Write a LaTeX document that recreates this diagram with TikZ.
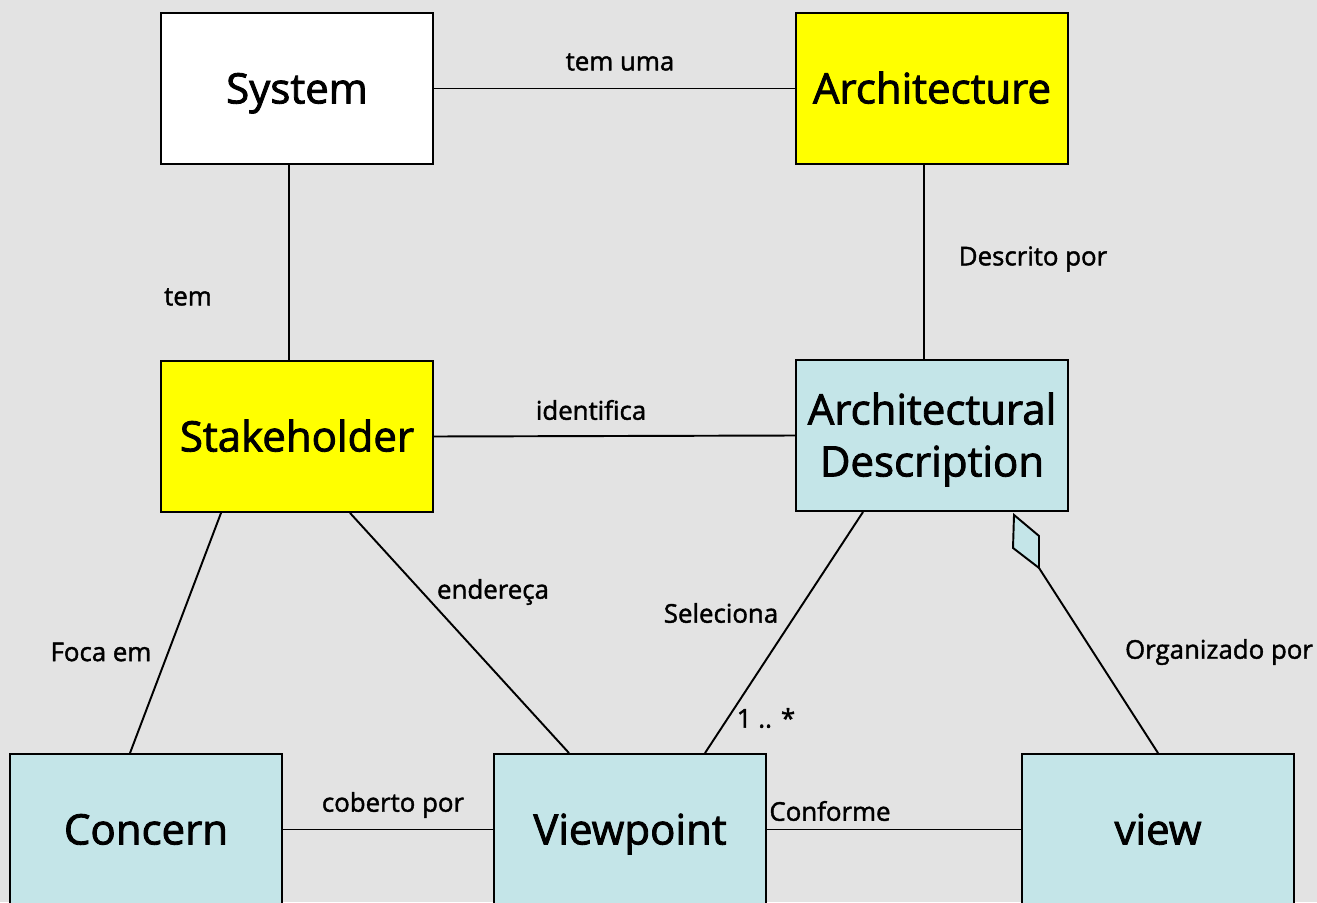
\documentclass[tikz,border=0pt]{standalone}
\usepackage{fontspec}
\setmainfont{Open Sans}
\newfontfamily\semib{Open Sans}[FakeBold=2]
\newfontfamily\semil{Open Sans}[FakeBold=1.6]
\usetikzlibrary{calc}
\definecolor{bg}{HTML}{E3E3E3}
\definecolor{lblue}{HTML}{C4E5E8}
\definecolor{yel}{HTML}{FFFF00}
\tikzset{
  box/.style={draw=black, line width=1.1pt, minimum width=5.44cm, minimum height=3.02cm, inner sep=0pt, align=center, text height=17pt, text depth=0pt, font=\semib\fontsize{23.9}{29.6}\selectfont},
  conn/.style={line width=1.1pt},
  lab/.style={font=\semil\fontsize{14.7}{17}\selectfont, inner sep=0pt}
}
\begin{document}
\begin{tikzpicture}[x=0.02cm,y=-0.02cm]
\useasboundingbox (0,0) rectangle (1317,902);
\clip (0,0) rectangle (1317,902);
\fill[bg] (0,0) rectangle (1317,902);
\node[box, fill=white] (sys) at (297,88.5) {System};
\node[box, fill=yel] (arch) at (932,88.5) {Architecture};
\node[box, fill=yel] (stk) at (297,436.5) {Stakeholder};
\node[box, fill=lblue, text height=46.6pt] (ad) at (932,435.5) {Architectural\\Description};
\node[box, fill=lblue] (con) at (146,829.5) {Concern};
\node[box, fill=lblue] (vp) at (630,829.5) {Viewpoint};
\node[box, fill=lblue] (view) at (1158,829.5) {view};
% diamond
\coordinate (dt) at ($(ad.south)+(82,3)$);
\coordinate (dr) at ($(ad.south)+(107,24)$);
\coordinate (db) at ($(ad.south)+(107,56)$);
\coordinate (dl) at ($(ad.south)+(81,36)$);
\draw[conn, fill=lblue, line join=miter] (dt) -- (dr) -- (db) -- (dl) -- cycle;
% connectors
\draw[conn] (sys.east) -- (arch.west);
\draw[conn] ([xshift=-0.16cm]sys.south) -- ([xshift=-0.16cm]stk.north);
\draw[conn] ([xshift=-0.16cm]arch.south) -- ([xshift=-0.16cm]ad.north);
\draw[conn] (stk.east) -- (ad.west);
\draw[conn] ([xshift=-1.52cm]stk.south) -- ([xshift=-0.32cm]con.north);
\draw[conn] ([xshift=1.06cm]stk.south) -- ([xshift=-1.22cm]vp.north);
\draw[conn] ([xshift=-1.38cm]ad.south) -- ([xshift=1.5cm]vp.north);
\draw[conn] (db) -- (view.north);
\draw[conn] (con.east) -- (vp.west);
\draw[conn] (vp.east) -- (view.west);
% labels
\node[lab] (l1) at (620,62) {tem uma};
\node[lab] (l2) at (188,297) {tem};
\node[lab] (l3) at (1033,259) {Descrito por};
\node[lab] (l4) at (591,410) {identifica};
\node[lab] (l5) at (101,652) {Foca em};
\node[lab] (l6) at (493,592) {endereça};
\node[lab] (l7) at (721,613) {Seleciona};
\node[lab] (l8) at (766,718) {1 .. *};
\node[lab] (l9) at (1219,652) {Organizado por};
\node[lab] (l10) at (393,805) {coberto por};
\node[lab] (l11) at (830,811) {Conforme};
\end{tikzpicture}
\end{document}
